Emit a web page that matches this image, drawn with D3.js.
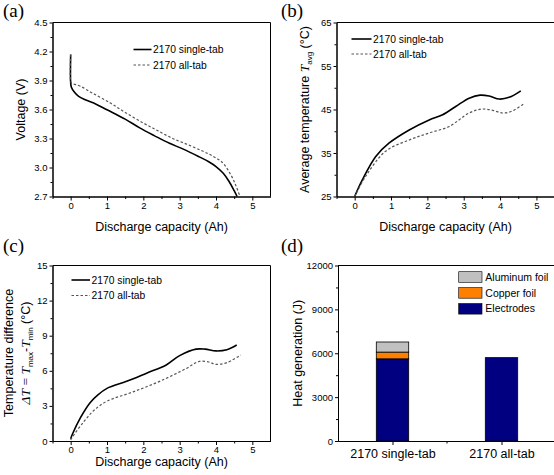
<!DOCTYPE html>
<html><head><meta charset="utf-8">
<script src="https://cdn.jsdelivr.net/npm/d3@7"></script>
<style>
body{margin:0;background:#fff}
svg{display:block}
text{font-family:Arial,"Liberation Sans",sans-serif;fill:#000}
</style>
</head><body>
<svg id="chart" width="554" height="475"></svg>
<script>
// ---------- DATA ----------
const seriesNames = ["2170 single-tab", "2170 all-tab"];

// (a) Voltage vs discharge capacity
const capA_single  = [0, 0, 0.02, 0.1, 0.22, 0.4, 0.7, 1.0, 1.5, 1.9, 2.3, 2.72, 3.1, 3.54, 3.8, 4.0, 4.2, 4.36, 4.5, 4.58];
const voltA_single = [4.17, 3.88, 3.83, 3.78, 3.735, 3.70, 3.655, 3.597, 3.50, 3.41, 3.33, 3.25, 3.19, 3.11, 3.06, 3.01, 2.94, 2.855, 2.76, 2.70];
const capA_all     = [0, 0, 0.03, 0.12, 0.27, 0.6, 1.08, 1.5, 2.0, 2.4, 2.81, 3.2, 3.63, 3.9, 4.18, 4.4, 4.55, 4.66];
const voltA_all    = [4.17, 3.89, 3.87, 3.86, 3.84, 3.77, 3.67, 3.57, 3.46, 3.38, 3.30, 3.24, 3.17, 3.12, 3.05, 2.93, 2.81, 2.70];

// (b) Average temperature
const capB_single  = [0, 0.21, 0.58, 0.95, 1.5, 2.05, 2.42, 2.78, 3.15, 3.45, 3.7, 3.98, 4.25, 4.57];
const tempB_single = [25, 28.8, 34.2, 37.3, 40.3, 42.6, 43.8, 45.7, 47.6, 48.3, 48.1, 47.4, 47.8, 49.3];
const capB_all     = [0, 0.3, 0.85, 1.5, 2.05, 2.6, 3.15, 3.5, 3.8, 4.07, 4.35, 4.68];
const tempB_all    = [25, 29.6, 35.4, 38.0, 39.6, 41.1, 44.2, 45.1, 44.8, 44.2, 44.7, 46.5];

// (c) Temperature difference
const capC_single  = [0, 0.05, 0.27, 0.54, 0.75, 1.0, 1.54, 2.09, 2.63, 3.0, 3.45, 3.7, 4.0, 4.3, 4.57];
const dtC_single   = [0.2, 0.6, 2.0, 3.3, 3.95, 4.5, 5.1, 5.8, 6.5, 7.3, 7.85, 7.85, 7.7, 7.8, 8.2];
const capC_all     = [0, 0.05, 0.36, 0.65, 1.0, 1.72, 2.45, 3.18, 3.54, 3.8, 4.0, 4.3, 4.68];
const dtC_all      = [0.1, 0.35, 1.65, 2.65, 3.4, 4.2, 5.1, 6.2, 6.8, 6.75, 6.55, 6.7, 7.35];

// tick values
const capTicks = [0, 1, 2, 3, 4, 5];
const voltTicks = [2.7, 3.0, 3.3, 3.6, 3.9, 4.2, 4.5];
const tempTicks = [25, 35, 45, 55, 65];
const dtTicks = [0, 3, 6, 9, 12, 15];
const heatTicks = [0, 3000, 6000, 9000, 12000];

// (d) Heat generation
const barCategories = ["2170 single-tab", "2170 all-tab"];
const heatElectrodes = [5620, 5700];
const heatCopperFoil = [460, 0];
const heatAluminumFoil = [690, 0];
const heatComponents = ["Electrodes", "Copper foil", "Aluminum foil"];

// ---------- DRAWING ----------
const svg = d3.select("#chart");
const zip = (a, b) => a.map((v, i) => [v, b[i]]);

function styleAxis(g, fs) {
  g.select(".domain").attr("stroke", "#000").attr("stroke-width", 1);
  g.selectAll(".tick line").attr("stroke", "#000").attr("stroke-width", 1);
  g.selectAll("text").style("font-family", "Arial, 'Liberation Sans', sans-serif").attr("font-size", fs).attr("fill", "#000");
  g.attr("font-family", null).attr("font-size", null);
}

function minorBetween(ticks, n) {
  const out = [];
  for (let i = 0; i < ticks.length - 1; i++) {
    const s = (ticks[i + 1] - ticks[i]) / n;
    for (let k = 1; k < n; k++) out.push(ticks[i] + s * k);
  }
  return out;
}

function linePanel(o) {
  const x = d3.scaleLinear().domain([-0.5, 5.5]).range([o.left, o.right]);
  const y = d3.scaleLinear().domain(o.yDomain).range([o.bottom, o.top]);
  const g = svg.append("g");

  // box
  g.append("line").attr("x1", o.left).attr("x2", o.right).attr("y1", o.top).attr("y2", o.top).attr("stroke", "#000");
  if (o.fullBox) g.append("line").attr("x1", o.right).attr("x2", o.right).attr("y1", o.top).attr("y2", o.bottom).attr("stroke", "#000");

  const xMinorVals = [-0.5, 0.5, 1.5, 2.5, 3.5, 4.5];
  const gxm = g.append("g").attr("transform", `translate(0,${o.bottom})`)
    .call(d3.axisBottom(x).tickValues(xMinorVals).tickSize(2.5).tickSizeOuter(0).tickFormat(""));
  styleAxis(gxm, 9.5);
  const gx = g.append("g").attr("transform", `translate(0,${o.bottom})`)
    .call(d3.axisBottom(x).tickValues(capTicks).tickSize(4).tickPadding(o.xPad).tickSizeOuter(0).tickFormat(d3.format("d")));
  styleAxis(gx, 9.5);

  const gym = g.append("g").attr("transform", `translate(${o.left},0)`)
    .call(d3.axisLeft(y).tickValues(minorBetween(o.yTicks, 2)).tickSize(2).tickSizeOuter(0).tickFormat(""));
  styleAxis(gym, 9.5);
  const gy = g.append("g").attr("transform", `translate(${o.left},0)`)
    .call(d3.axisLeft(y).tickValues(o.yTicks).tickSize(3).tickPadding(2).tickSizeOuter(0).tickFormat(o.yFmt));
  styleAxis(gy, 9.5);

  const line = d3.line().x(d => x(d[0])).y(d => y(d[1])).curve(d3.curveCatmullRom.alpha(0.5));
  g.append("path").attr("d", line(o.single)).attr("fill", "none").attr("stroke", "#000").attr("stroke-width", 1.6);
  g.append("path").attr("d", line(o.all)).attr("fill", "none").attr("stroke", "#555").attr("stroke-width", 1.2).attr("stroke-dasharray", "2.5,2");

  // legend
  const L = o.legend;
  g.append("line").attr("x1", L.x1).attr("x2", L.x2).attr("y1", L.y1).attr("y2", L.y1).attr("stroke", "#000").attr("stroke-width", 1.6);
  g.append("line").attr("x1", L.x1).attr("x2", L.x2).attr("y1", L.y2).attr("y2", L.y2).attr("stroke", "#555").attr("stroke-width", 1.2).attr("stroke-dasharray", "2.5,2");
  g.append("text").attr("x", L.x2 + 1.5).attr("y", L.y1).attr("dy", "0.35em").attr("font-size", 10.3).text(seriesNames[0]);
  g.append("text").attr("x", L.x2 + 1.5).attr("y", L.y2).attr("dy", "0.35em").attr("font-size", 10.3).text(seriesNames[1]);

  // x title
  g.append("text").attr("x", (o.left + o.right) / 2).attr("y", o.xTitleY).attr("text-anchor", "middle")
    .attr("font-size", 12.5).text("Discharge capacity (Ah)");
  return {x, y, g};
}

// (a)
const pa = linePanel({left: 52.5, right: 270.5, top: 22.5, bottom: 196.5, yDomain: [2.7, 4.5], yTicks: voltTicks,
  yFmt: d3.format(".1f"), fullBox: true, xPad: 1.5, xTitleY: 231,
  single: zip(capA_single, voltA_single), all: zip(capA_all, voltA_all),
  legend: {x1: 133.5, x2: 151.5, y1: 49.5, y2: 65}});
svg.append("text").attr("transform", "translate(21,109.5) rotate(-90)").attr("text-anchor", "middle").attr("dy", "0.35em")
  .attr("font-size", 12.5).text("Voltage (V)");

// (b)
const pb = linePanel({left: 336.5, right: 554.6, top: 22.5, bottom: 196.5, yDomain: [25, 65], yTicks: tempTicks,
  yFmt: d3.format("d"), fullBox: false, xPad: 1.5, xTitleY: 231,
  single: zip(capB_single, tempB_single), all: zip(capB_all, tempB_all),
  legend: {x1: 351.5, x2: 371.5, y1: 39, y2: 54}});
{
  const t = svg.append("text").attr("transform", "translate(305,109.5) rotate(-90)").attr("text-anchor", "middle").attr("dy", "0.35em")
    .attr("font-size", 12.5);
  t.append("tspan").text("Average temperature ");
  t.append("tspan").style("font-family", "'Liberation Serif','Times New Roman',serif").attr("font-style", "italic").attr("font-size", 13.5).text("T");
  t.append("tspan").attr("font-size", 8).attr("dy", "3").text("avg");
  t.append("tspan").attr("dy", "-3").text(" (°C)");
}

// (c)
const pc = linePanel({left: 52.5, right: 270.5, top: 265.5, bottom: 441, yDomain: [0, 15], yTicks: dtTicks,
  yFmt: d3.format("d"), fullBox: true, xPad: 1, xTitleY: 466,
  single: zip(capC_single, dtC_single), all: zip(capC_all, dtC_all),
  legend: {x1: 71.5, x2: 90, y1: 280, y2: 295.5}});
svg.append("text").attr("transform", "translate(9,353) rotate(-90)").attr("text-anchor", "middle").attr("dy", "0.35em")
  .attr("font-size", 12.5).text("Temperature difference");
{
  const t = svg.append("text").attr("transform", "translate(26,353) rotate(-90)").attr("text-anchor", "middle").attr("dy", "0.35em")
    .attr("font-size", 12.5);
  const serif = "'Liberation Serif','Times New Roman',serif";
  t.append("tspan").style("font-family", serif).attr("font-style", "italic").attr("font-size", 13.5).text("ΔT");
  t.append("tspan").style("font-family", serif).attr("font-size", 13.5).text(" = ");
  t.append("tspan").style("font-family", serif).attr("font-style", "italic").attr("font-size", 13.5).text("T");
  t.append("tspan").attr("font-size", 8).attr("dy", "3").text("max");
  t.append("tspan").attr("dy", "-3").text("-");
  t.append("tspan").style("font-family", serif).attr("font-style", "italic").attr("font-size", 13.5).text("T");
  t.append("tspan").attr("font-size", 8).attr("dy", "3").text("min");
  t.append("tspan").attr("dy", "-3").text(" (°C)");
}

// (d) stacked bars
{
  const left = 338, right = 556, top = 265.5, bottom = 441;
  const x = d3.scalePoint().domain(barCategories).range([left, right]).padding(0.5);
  const y = d3.scaleLinear().domain([0, 12000]).range([bottom, top]);
  const g = svg.append("g");
  g.append("line").attr("x1", left).attr("x2", right).attr("y1", top).attr("y2", top).attr("stroke", "#000");

  const rows = barCategories.map((c, i) => ({cat: c, "Electrodes": heatElectrodes[i], "Copper foil": heatCopperFoil[i], "Aluminum foil": heatAluminumFoil[i]}));
  const stack = d3.stack().keys(heatComponents)(rows);
  const colors = d3.scaleOrdinal().domain(heatComponents).range(["#000080", "#FF8000", "#C0C0C0"]);
  const bw = 32.4;
  stack.forEach(layer => {
    g.selectAll(null).data(layer.filter(d => d[1] > d[0])).enter().append("rect")
      .attr("x", d => x(d.data.cat) - bw / 2).attr("width", bw)
      .attr("y", d => y(d[1])).attr("height", d => y(d[0]) - y(d[1]))
      .attr("fill", colors(layer.key)).attr("stroke", "#000").attr("stroke-width", 0.8);
  });

  const gxm = g.append("g").attr("transform", `translate(0,${bottom})`)
    .call(d3.axisBottom(x).tickValues([]).tickSizeOuter(0));
  styleAxis(gxm, 12.5);
  // minor tick between categories
  g.append("line").attr("x1", (x(barCategories[0]) + x(barCategories[1])) / 2).attr("x2", (x(barCategories[0]) + x(barCategories[1])) / 2)
    .attr("y1", bottom).attr("y2", bottom + 2.5).attr("stroke", "#000");
  const gx = g.append("g").attr("transform", `translate(0,${bottom})`)
    .call(d3.axisBottom(x).tickSize(4).tickPadding(4).tickSizeOuter(0));
  styleAxis(gx, 12.5);

  const gym = g.append("g").attr("transform", `translate(${left},0)`)
    .call(d3.axisLeft(y).tickValues(minorBetween(heatTicks, 2)).tickSize(2).tickSizeOuter(0).tickFormat(""));
  styleAxis(gym, 9.5);
  const gy = g.append("g").attr("transform", `translate(${left},0)`)
    .call(d3.axisLeft(y).tickValues(heatTicks).tickSize(3).tickPadding(2).tickSizeOuter(0).tickFormat(d3.format("d")));
  styleAxis(gy, 9.5);

  svg.append("text").attr("transform", `translate(298,${(top + bottom) / 2}) rotate(-90)`).attr("text-anchor", "middle").attr("dy", "0.35em")
    .attr("font-size", 12.5).text("Heat generation (J)");

  // legend (top to bottom: Aluminum, Copper, Electrodes)
  const legendOrder = heatComponents.slice().reverse();
  legendOrder.forEach((k, i) => {
    const yy = 271.7 + i * 15.9;
    g.append("rect").attr("x", 458.7).attr("y", yy).attr("width", 23.3).attr("height", 10.6)
      .attr("fill", colors(k)).attr("stroke", "#000").attr("stroke-width", 0.6);
    g.append("text").attr("x", 485.3).attr("y", yy + 5.3).attr("dy", "0.35em").attr("font-size", 10.5).text(k);
  });
}

// panel labels
const serifFam = "'Liberation Serif','Times New Roman',serif";
[["(a)", 3, 17], ["(b)", 281, 17], ["(c)", 3, 252], ["(d)", 281, 252]].forEach(([t, x, y]) => {
  svg.append("text").attr("x", x).attr("y", y).style("font-family", serifFam).attr("font-size", 19).text(t);
});
</script>
</body></html>
